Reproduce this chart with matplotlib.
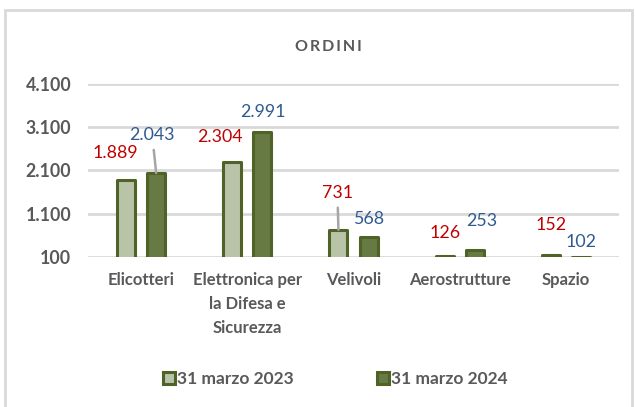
import matplotlib
matplotlib.use("Agg")
from matplotlib import pyplot as plt
from matplotlib.patches import Rectangle
import numpy as np

plt.rcParams['font.family'] = ['Lato', 'DejaVu Sans']

# dati
categorie = ["Elicotteri", "Elettronica per\nla Difesa e\nSicurezza", "Velivoli", "Aerostrutture", "Spazio"]
ordini_2023 = [1889, 2304, 731, 126, 152]
ordini_2024 = [2043, 2991, 568, 253, 102]
etichette_2023 = ["1.889", "2.304", "731", "126", "152"]
etichette_2024 = ["2.043", "2.991", "568", "253", "102"]
serie = ["31 marzo 2023", "31 marzo 2024"]
y_ticks = [100, 1100, 2100, 3100, 4100]
y_labels = ["100", "1.100", "2.100", "3.100", "4.100"]

# spostamenti etichette (pixel) e linee guida
off_2023 = [(-11, 27), (-12, 25), (-1, 37), (0, 23), (0, 30)]
off_2024 = [(-4, 38), (0, 20), (0, 18), (7, 29), (0, 15)]
leader_2023 = [False, False, True, False, False]
leader_2024 = [True, False, False, False, False]

W, H = 635, 407
fig = plt.figure(figsize=(W / 100, H / 100), dpi=100)
ax = fig.add_axes([88 / W, 1 - 257 / H, 531 / W, 173 / H])

# cornice esterna
fig.patches.append(Rectangle((5 / W, -0.05), 627 / W, 1 - 10 / H + 0.05, transform=fig.transFigure,
                             fill=False, edgecolor="#D9D9D9", linewidth=2))

x = np.arange(len(categorie))
bw = 0.17
off = 0.142
edge = "#4F6228"
c23 = "#B9C3A8"
c24 = "#677A44"

b1 = ax.bar(x - off, ordini_2023, bw, color=c23, edgecolor=edge, linewidth=2.2,
            label=serie[0], zorder=3)
b2 = ax.bar(x + off, ordini_2024, bw, color=c24, edgecolor=edge, linewidth=2.2,
            label=serie[1], zorder=3)
for b in list(b1) + list(b2):
    b.set_joinstyle("round")

px = 72 / 100  # pixel -> punti

def etichetta(xv, yv, txt, o, col, lead):
    kw = {}
    if lead:
        kw["arrowprops"] = dict(arrowstyle="-", color="#A6A6A6", lw=1.8, shrinkA=3, shrinkB=0)
    ax.annotate(txt, xy=(xv, yv), xytext=(o[0] * px, o[1] * px), textcoords="offset points",
                ha="center", va="center", fontsize=12.8, color=col, zorder=5, **kw)

for i in range(len(categorie)):
    etichetta(x[i] - off, ordini_2023[i], etichette_2023[i], off_2023[i], "#C00000", leader_2023[i])
    etichetta(x[i] + off, ordini_2024[i], etichette_2024[i], off_2024[i], "#2F5A8E", leader_2024[i])

ax.set_ylim(100, 4100)
ax.set_xlim(-0.5, len(categorie) - 0.5)
ax.set_yticks(y_ticks)
ax.set_yticklabels(y_labels, fontsize=12.8, fontweight="bold", color="#595959")
ax.set_xticks(x)
ax.set_xticklabels(categorie, fontsize=12, fontweight="bold", color="#595959", linespacing=1.6,
                   va="top")
ax.tick_params(axis="both", length=0)
ax.tick_params(axis="x", pad=11)
ax.tick_params(axis="y", pad=12)
ax.grid(axis="y", color="#D9D9D9", linewidth=2, zorder=0)
for s in ax.spines.values():
    s.set_visible(False)

fig.text(328 / W, 1 - 47 / H, "\u2009".join("ORDINI"), ha="center", va="center",
         fontsize=11.5, fontweight="bold", color="#595959")

fig.legend(handles=[b1, b2], labels=serie, loc="center", bbox_to_anchor=(335 / W, 1 - 379 / H),
           ncol=2, frameon=False, prop={"weight": "bold", "size": 12.5},
           handlelength=0.7, handleheight=0.7, handletextpad=0.1, columnspacing=4.8,
           labelcolor="#595959")

fig.savefig("out.png", dpi=100)
